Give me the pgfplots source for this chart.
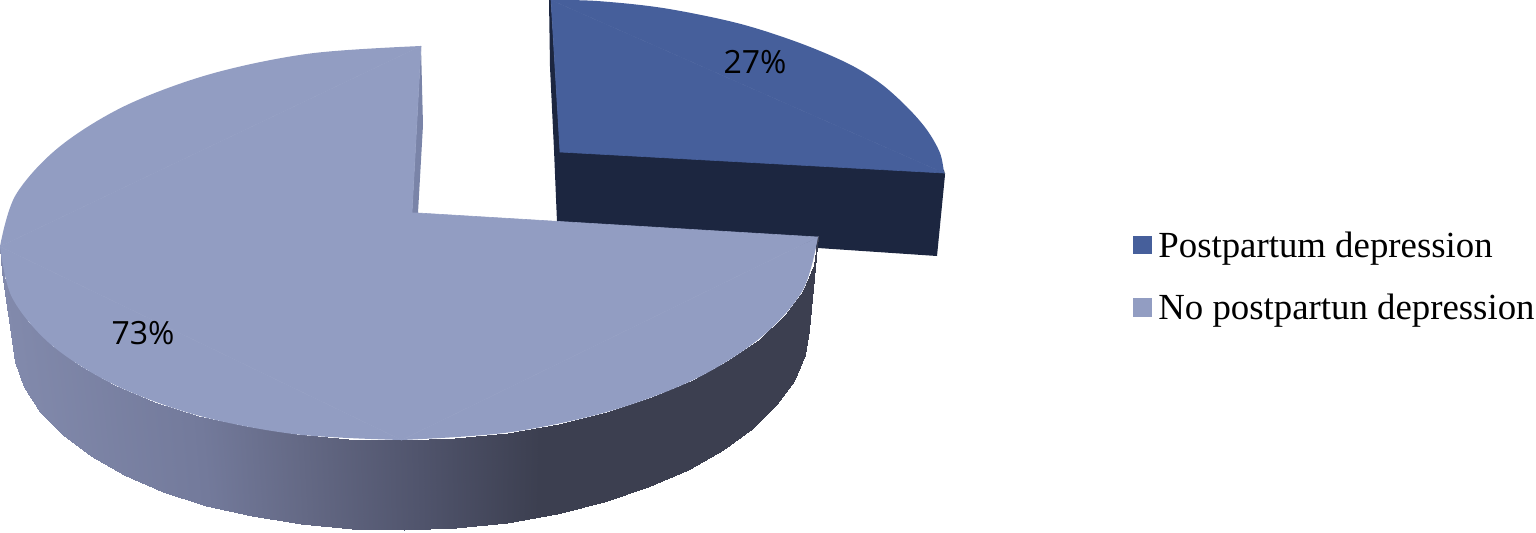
\documentclass[border=0pt]{standalone}
\usepackage{fontspec}
\setmainfont{Liberation Serif}
\newfontfamily\labelfont{Open Sans}
\usepackage{pgfplots}
\pgfplotsset{compat=1.18}
\definecolor{darkslice}{RGB}{70,95,155}
\definecolor{darkside}{RGB}{28,38,64}
\definecolor{lightslice}{RGB}{146,157,194}
\definecolor{lightwall}{RGB}{122,132,168}

\begin{document}
\begin{tikzpicture}
\path[use as bounding box] (0,0) rectangle (768pt,266pt);
\begin{axis}[
    scale only axis,
    width=768pt, height=266pt,
    xmin=0, xmax=1536,
    ymin=0, ymax=532,
    y dir=reverse,
    hide axis,
    clip=false,
    colormap={side}{rgb255(0cm)=(130,138,172); rgb255(2cm)=(115,122,155); rgb255(3cm)=(100,105,133);
        rgb255(4.2cm)=(80,84,108); rgb255(5.4cm)=(60,63,80); rgb255(8.2cm)=(60,63,80)},
    point meta min=0, point meta max=820,
    legend style={at={(axis cs:1133,227.5)}, anchor=north west, draw=none, fill=none,
        font=\fontsize{18.4}{22}\selectfont, row sep=13pt, inner sep=0pt,
        /tikz/every odd column/.append style={column sep=1pt}},
    legend cell align=left,
    legend image code/.code={\path[#1,fill,draw=none] (0pt,-4pt) rectangle (9.5pt,5.2pt);},
]
% small slice
\addplot[forget plot, draw=none, fill=darkside] coordinates {
    (549,0)(550,67)(554,150)(557,222)(818,248)(937,256)(945,175)(944,170)(560,148)(551,0)};
\addplot[forget plot, draw=none, fill=darkslice, smooth, tension=0.55] coordinates {
    (551,0)(597,1)(663,8)(737,23)(797,42)(847,63)(880,83)(907,107)(927,130)(940,153)(944,173)};
\addplot[forget plot, draw=darkslice, line width=0.3pt, fill=darkslice] coordinates {
    (551,0)(560,152)(944,173)(551,0)};

% big slice, side: top edge then bottom edge, meta picks the shade
\addplot[forget plot, patch, patch type=rectangle, shader=interp, mesh input=lattice, mesh/cols=25,
    point meta=explicit] table[meta=c] {
x y c
0 246.5 0
2.5 272.2 2.5
12 297.4 12
28.2 321.6 28.2
51 344.6 51
79.8 365.7 79.8
114.5 384.8 114.5
154.2 401.6 154.2
198.2 415.5 198.2
245.8 426.4 245.8
296 434.3 296
348.5 438.8 348.5
401.6 440 401.6
455.2 437.8 455.2
508 432.5 508
558.7 423.8 558.7
607.4 411.8 607.4
652.4 397.3 652.4
693.3 379.9 693.3
729.2 360.2 729.2
759.5 338.5 759.5
784.5 315.1 784.5
802.5 290.7 802.5
813.5 265.3 813.5
818 236 818
13 336.5 0
15.4 362.2 2.5
24.5 387.4 12
40.5 411.6 28.2
62.6 434.6 51
90.6 455.7 79.8
124.4 474.8 114.5
163 491.6 154.2
205.8 505.5 198.2
252.2 516.4 245.8
301.2 524.3 296
352 528.8 348.5
403.8 530 401.6
456 527.8 455.2
507.3 522.5 508
556.7 513.8 558.7
604 501.8 607.4
647.8 487.3 652.4
687.6 469.9 693.3
722.6 450.2 729.2
752.1 428.5 759.5
776.4 405.1 784.5
793.9 380.7 802.5
804.6 355.3 813.5
809 329.5 818
};
% big slice, inner wall and top
\addplot[forget plot, draw=none, fill=lightwall] coordinates {
    (421,46)(423,125)(418,213)(412,213)(421,46)};
\addplot[forget plot, draw=none, fill=lightslice, smooth, tension=0.55] coordinates {
    (421,46)(310,53.5)(210.6,74)(124.7,106)(58.5,147.5)(15.5,195.3)(0,246.5)};
\addplot[forget plot, draw=none, fill=lightslice, smooth, tension=0.55] coordinates {
    (0,246.5)(12,297.4)(51,344.6)(114.5,384.8)(198,415.5)(296,434.3)(401.6,440)};
\addplot[forget plot, draw=none, fill=lightslice, smooth, tension=0.55] coordinates {
    (401.6,440)(508,432.5)(607.4,411.8)(693.3,379.9)(759.5,338.5)(802.5,290.7)(818,237)};
\addplot[forget plot, draw=lightslice, line width=0.3pt, fill=lightslice] coordinates {
    (421,46)(412,213)(418,213)(818,237)(401.6,440)(0,246.5)(421,46)};

\addlegendimage{fill=darkslice}
\addlegendentry{Postpartum depression}
\addlegendimage{fill=lightslice}
\addlegendentry{No postpartun depression}

\node[font=\labelfont\fontsize{16}{19}\selectfont] at (axis cs:755,62) {27\%};
\node[font=\labelfont\fontsize{16}{19}\selectfont] at (axis cs:143,333) {73\%};
\end{axis}
\end{tikzpicture}
\end{document}
